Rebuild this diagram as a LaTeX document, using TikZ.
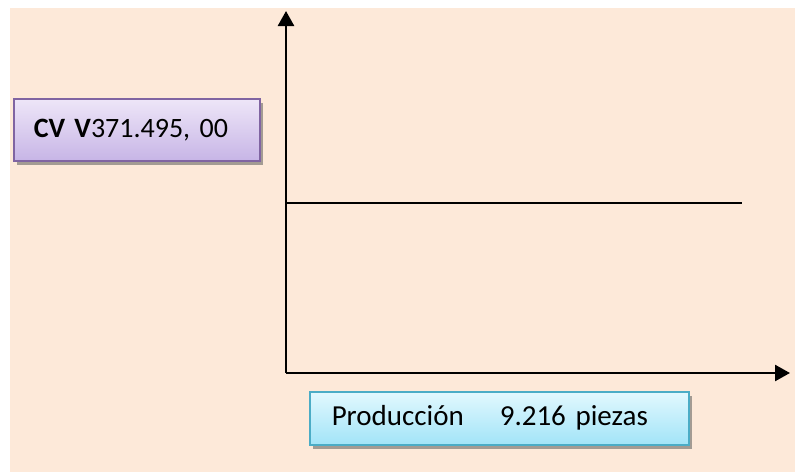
\documentclass[tikz,border=0pt]{standalone}
\usepackage{fontspec}
\setmainfont{Carlito}
\usetikzlibrary{arrows.meta,shadows}

\definecolor{fondo}{HTML}{FDE9D9}
\definecolor{lilaborde}{HTML}{8064A2}
\definecolor{lilaarriba}{HTML}{EEE6F8}
\definecolor{lilaabajo}{HTML}{C7B5E6}
\definecolor{azulborde}{HTML}{4BACC6}
\definecolor{azularriba}{HTML}{E2F8FE}
\definecolor{azulabajo}{HTML}{A2E4F8}
\definecolor{sombra}{HTML}{A39B93}

\begin{document}
\begin{tikzpicture}[x=1pt, y=-1pt,
		eje/.style={line width=2.5pt, -{Triangle[length=15pt,width=16pt]}},
		caja/.style={draw, line width=1.5pt, anchor=north west, align=left,
			drop shadow={shadow xshift=3pt, shadow yshift=-4pt, fill=sombra, opacity=1}}
		]
	\useasboundingbox (0,0) rectangle (795,472);
	\fill[fondo] (10,8) rectangle (795,472);

	% ejes
	\coordinate (origen) at (286,373);
	\coordinate (ytope) at (286,11);
	\coordinate (xfin) at (790,373);
	\draw[eje] (origen) -- (ytope);
	\draw[eje] (origen) -- (xfin);

	% costo variable
	\coordinate (cvini) at (286,203);
	\coordinate (cvfin) at (742,203);
	\draw[line width=1.6pt] (cvini) -- (cvfin);

	\node [caja, color=lilaborde, top color=lilaarriba, bottom color=lilaabajo,
		text=black, font=\fontsize{28}{32}\selectfont,
		inner xsep=20pt, text width=206pt, minimum height=62pt] (cv) at (13,98)
		{\textbf{CV V}371.495, 00};
	\node [caja, color=azulborde, top color=azularriba, bottom color=azulabajo,
		text=black, font=\fontsize{29}{33}\selectfont,
		inner xsep=22pt, text width=335pt, minimum height=53pt] (prod) at (309,391)
		{Producción\hspace{36pt}9.216 piezas};
\end{tikzpicture}
\end{document}
